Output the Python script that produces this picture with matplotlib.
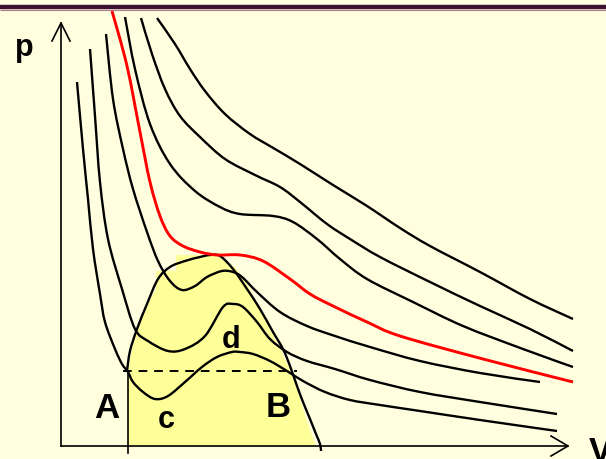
import numpy as np
import matplotlib.pyplot as plt
from matplotlib.path import Path
from matplotlib.patches import PathPatch, Polygon

plt.rcParams['font.family'] = ['Liberation Sans', 'DejaVu Sans']

# isotherms, traced in screen units (x to the right, y downwards)
iso1_x = [77, 83, 88, 93, 100, 105, 115, 122, 128, 133, 143, 155, 168, 185, 202, 217, 232, 240, 253, 270, 287, 303, 325, 350, 380, 420, 480, 557]
iso1_y = [83, 150, 200, 250, 295, 323, 350, 365, 373, 383, 393, 400, 397, 383, 368, 358, 353, 353, 355, 362, 372, 382, 393, 401, 406, 412, 421, 432]

iso2_x = [90, 95, 100, 108, 122, 135, 148, 168, 185, 205, 223, 233, 243, 257, 270, 287, 307, 335, 370, 420, 480, 557]
iso2_y = [50, 117, 183, 240, 290, 330, 342, 352, 350, 337, 308, 305, 308, 323, 340, 353, 362, 370, 381, 393, 403, 415]

iso3_x = [106, 113, 123, 133, 147, 158, 170, 182, 195, 207, 222, 233, 242, 257, 280, 307, 335, 370, 420, 480, 540]
iso3_y = [35, 100, 150, 190, 233, 262, 282, 291, 287, 278, 272, 273, 278, 293, 313, 327, 337, 348, 362, 374, 383]

crit_x = [112, 127, 140, 150, 160, 170, 183, 200, 217, 240, 263, 290, 310, 333, 367, 400, 483, 573]
crit_y = [12, 67, 133, 183, 217, 237, 247, 253, 256, 256, 262, 280, 295, 307, 323, 337, 360, 383]

iso5_x = [125, 135, 150, 170, 195, 220, 240, 273, 293, 317, 340, 367, 413, 463, 523, 573]
iso5_y = [18, 70, 125, 165, 192, 208, 215, 217, 223, 240, 260, 280, 303, 327, 350, 368]

iso6_x = [141, 152, 165, 180, 200, 225, 255, 280, 300, 327, 350, 380, 430, 480, 530, 573]
iso6_y = [19, 55, 90, 117, 138, 160, 176, 188, 203, 225, 240, 258, 283, 307, 330, 352]

iso7_x = [157, 175, 190, 205, 225, 250, 275, 300, 333, 367, 400, 430, 480, 530, 573]
iso7_y = [19, 45, 70, 92, 115, 135, 150, 165, 186, 207, 229, 247, 273, 300, 320]

# outline of the two-phase dome
dome_x = [127, 130, 137, 147, 158, 170, 185, 200, 210, 220, 233, 247, 260, 273, 283, 290, 297, 303, 310, 316, 320, 321]
dome_y = [372, 352, 330, 305, 280, 268, 262, 258, 256, 257, 270, 290, 310, 333, 350, 367, 387, 403, 420, 435, 445, 452]

# shaded region under the dome
fill_x = [128, 128, 135, 148, 156, 156, 176, 176, 215, 235, 250, 265, 280, 292, 300, 308, 316]
fill_y = [447, 372, 335, 305, 290, 272, 272, 256, 256, 268, 290, 320, 350, 375, 400, 425, 447]

# tie line A-B
tie_x = [123, 297]
tie_y = [372, 372]

labels = ['A', 'B', 'c', 'd']
label_x = [107, 278, 166, 231]
label_y = [418, 417, 428, 348]


def smooth_path(xs, ys):
    # Catmull-Rom through the traced points, drawn as cubic Bezier segments
    p = np.column_stack([xs, ys]).astype(float)
    verts = [p[0]]
    codes = [Path.MOVETO]
    n = len(p)
    for i in range(n - 1):
        p0 = p[i - 1] if i > 0 else p[i]
        p3 = p[i + 2] if i + 2 < n else p[i + 1]
        c1 = p[i] + (p[i + 1] - p0) / 6.0
        c2 = p[i + 1] - (p3 - p[i]) / 6.0
        verts += [c1, c2, p[i + 1]]
        codes += [Path.CURVE4] * 3
    return Path(verts, codes)


bg = '#FFFFE0'
fig = plt.figure(figsize=(6.06, 4.60), dpi=100, facecolor=bg)
ax = fig.add_axes([0, 0, 1, 1])
ax.set_facecolor(bg)
ax.set_xlim(0, 606)
ax.set_ylim(460, 0)
ax.axis('off')

ax.add_patch(Polygon(np.column_stack([fill_x, fill_y]), closed=True,
                     facecolor='#FFFF99', edgecolor='none', zorder=1))

# header rule
ax.plot([0, 606], [8, 8], color='#3C1030', lw=3.2, solid_capstyle='butt', zorder=5)
ax.plot([0, 606], [10.8, 10.8], color='#B07890', lw=0.8, solid_capstyle='butt', zorder=5)

# axes with open arrow heads
ax.plot([61, 61], [447, 24], color='black', lw=1.2, zorder=3)
ax.plot([52, 61, 70], [42, 24, 42], color='black', lw=1.2, zorder=3)
ax.plot([61, 568], [447, 447], color='black', lw=1.2, zorder=3)
ax.plot([551, 568, 551], [437, 447, 457], color='black', lw=1.2, zorder=3)

ax.plot([128, 128], [372, 454], color='black', lw=1.2, zorder=3)
ax.plot(tie_x, tie_y, color='black', lw=1.4, dashes=(4.5, 3.5), zorder=4)

for xs, ys in [(iso1_x, iso1_y), (iso2_x, iso2_y), (iso3_x, iso3_y),
               (iso5_x, iso5_y), (iso6_x, iso6_y), (iso7_x, iso7_y),
               (dome_x, dome_y)]:
    ax.add_patch(PathPatch(smooth_path(xs, ys), facecolor='none',
                           edgecolor='black', lw=1.7, zorder=4))
ax.add_patch(PathPatch(smooth_path(crit_x, crit_y), facecolor='none',
                       edgecolor='#FF0000', lw=2.1, zorder=4))

for t, x, y in zip(labels, label_x, label_y):
    size = 25 if t.isupper() else 22
    ax.text(x, y, t, fontsize=size, fontweight='bold', ha='center', va='baseline', zorder=6)
ax.text(24, 56, 'p', fontsize=22, fontweight='bold', ha='center', va='baseline')
ax.text(589, 462, 'V', fontsize=25, fontweight='bold', ha='left', va='baseline')

fig.savefig('out.png', dpi=100, facecolor=bg)
